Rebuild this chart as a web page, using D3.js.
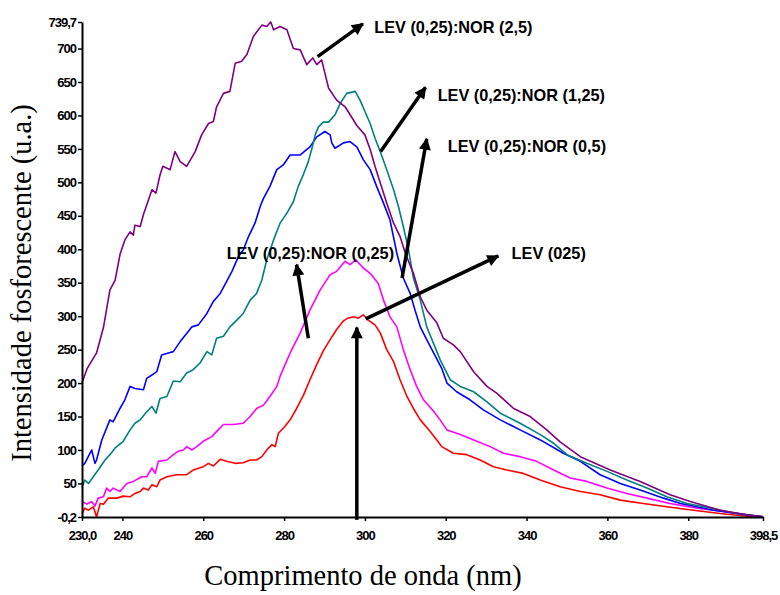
<!DOCTYPE html>
<html>
<head>
<meta charset="utf-8">
<script src="https://cdn.jsdelivr.net/npm/d3@7/dist/d3.min.js"></script>
<style>
  html, body { margin: 0; padding: 0; background: #fff; }
  svg { display: block; }
  .tick text { font-family: "Liberation Sans", Arial, sans-serif; font-weight: bold; font-size: 13px; letter-spacing: -1px; fill: #000; }
</style>
</head>
<body>
<svg id="chart" width="780" height="595"></svg>
<script>
// Phosphorescence spectra: wavelength (nm) and intensity (u.a.) pairs per sample
const levNor2_5 = [
  [230.0,200],[231.3,222],[233.6,245],[235.3,283],[236.9,339],[238.2,354],[239.4,392],[240.6,414],
  [241.9,426],[242.7,421],[243.1,436],[244.4,434],[245.2,452],[246.4,473],[247.3,489],[248.3,484],
  [249.3,511],[250.0,524],[251.8,519],[253.0,546],[254.3,531],[255.9,524],[258.0,546],[259.6,571],
  [261.3,588],[262.5,591],[263.3,613],[265.0,633],[266.6,636],[267.9,678],[269.5,681],[270.8,691],
  [272.4,718],[274.5,735],[275.7,733],[276.7,739.7],[277.4,728],[279.0,733],[280.7,728],[282.3,700],
  [284.0,698],[285.6,676],[287.1,686],[288.1,676],[289.3,683],[291.0,641],[293.0,623],[295.1,613],
  [298.0,585],[300.0,571],[301.3,549],[302.5,524],[303.8,499],[305.4,469],[307.1,439],[308.7,419],
  [310.0,394],[312.0,364],[313.7,329],[315.3,309],[317.8,290],[319.4,267],[321.9,257],[323.6,247],
  [326.9,217],[330.2,195],[332.6,185],[336.8,162],[340.9,150],[345.0,130],[348.3,112],[353.3,90],
  [360.7,70],[368.1,53],[375.5,33],[380.5,23],[387.9,10],[394.5,3],[398.5,0]
];
const levNor1_25 = [
  [230.0,44],[230.7,55],[231.6,50],[232.8,60],[234.0,70],[235.7,85],[236.9,93],[238.2,103],
  [240.2,113],[241.9,130],[243.1,140],[244.4,145],[246.0,157],[247.3,165],[248.3,155],[249.3,177],
  [251.0,180],[252.6,203],[254.3,202],[255.9,215],[257.5,220],[259.2,230],[260.9,247],[262.1,242],
  [263.3,267],[265.0,270],[266.6,284],[268.3,294],[269.9,304],[271.6,324],[273.2,334],[274.5,354],
  [275.7,384],[277.4,414],[279.0,439],[280.7,454],[282.3,471],[283.5,494],[284.8,512],[286.0,531],
  [286.9,551],[287.7,571],[288.5,583],[289.7,590],[291.0,590],[292.6,601],[293.9,618],[295.5,633],
  [297.6,636],[298.8,623],[300.0,606],[301.3,588],[302.5,566],[303.8,546],[305.4,519],[307.1,489],
  [308.3,464],[309.5,434],[310.8,399],[312.0,357],[313.7,324],[315.3,284],[317.0,259],[318.6,235],
  [321.1,205],[323.6,195],[326.9,187],[330.2,172],[333.5,155],[338.4,140],[343.4,123],[346.7,110],
  [350.0,93],[354.9,80],[359.9,68],[364.8,55],[369.8,43],[374.7,30],[379.7,20],[386.3,12],
  [392.9,4],[398.5,0]
];
const levNor0_5 = [
  [230.0,76],[230.7,80],[232.4,100],[233.2,80],[233.6,85],[234.9,115],[236.9,145],[237.7,142],
  [239.4,162],[240.6,175],[241.9,195],[243.1,192],[245.2,190],[246.0,207],[247.3,212],[248.5,217],
  [249.7,242],[251.4,245],[252.6,247],[254.3,262],[255.9,274],[257.2,284],[258.8,287],[260.9,304],
  [262.5,322],[264.2,334],[265.8,352],[267.1,367],[268.7,389],[269.9,399],[271.2,419],[272.8,439],
  [274.1,464],[274.9,476],[276.5,494],[278.2,519],[279.8,526],[281.5,541],[284.0,541],[286.4,553],
  [288.1,568],[290.1,576],[291.4,571],[291.8,559],[292.6,551],[294.7,559],[296.3,561],[298.0,553],
  [299.6,534],[301.3,519],[302.9,494],[304.6,469],[306.2,444],[307.9,394],[309.5,357],[311.2,334],
  [312.4,309],[313.7,284],[315.3,265],[317.0,245],[319.0,222],[320.3,200],[322.7,187],[326.0,175],
  [329.3,160],[333.5,145],[338.4,130],[343.4,115],[349.1,95],[353.3,83],[358.2,63],[363.2,50],
  [368.1,40],[373.9,28],[378.1,20],[386.3,10],[394.5,3],[398.5,0]
];
const levNor0_25 = [
  [230.0,23],[231.2,19],[232.4,23],[233.2,16],[234.0,28],[235.3,30],[236.1,43],[236.9,38],
  [237.7,43],[239.4,38],[241.1,50],[242.7,53],[244.8,60],[246.0,60],[247.3,73],[248.1,65],
  [248.9,83],[251.0,85],[252.6,93],[253.8,98],[255.1,100],[255.9,105],[257.2,100],[258.4,105],
  [260.0,113],[262.1,120],[263.7,130],[265.0,138],[267.5,138],[269.9,140],[271.6,150],[273.2,162],
  [274.9,167],[276.5,180],[278.2,195],[279.0,210],[281.5,245],[284.0,275],[286.4,309],[288.9,339],
  [291.4,362],[293.0,367],[295.1,382],[296.3,377],[297.8,384],[299.6,372],[301.3,364],[303.3,349],
  [304.6,324],[306.2,299],[307.9,284],[309.5,250],[311.2,220],[312.8,195],[314.5,175],[317.0,158],
  [318.6,145],[320.3,130],[323.6,123],[327.7,113],[331.0,105],[334.3,95],[338.4,90],[342.5,83],
  [346.7,70],[350.8,58],[354.9,53],[359.9,43],[364.8,35],[369.8,28],[375.5,20],[382.2,13],
  [388.7,8],[394.5,3],[398.5,0]
];
const lev025 = [
  [230.0,5],[230.7,13],[231.6,10],[232.8,15],[233.6,0],[234.5,20],[235.3,19],[236.5,28],
  [238.6,28],[240.2,31],[241.9,30],[243.1,35],[244.4,38],[245.2,43],[246.4,40],[247.3,48],
  [248.5,45],[249.3,55],[251.0,60],[253.4,63],[255.9,63],[257.5,70],[260.0,75],[261.3,80],
  [262.5,76],[264.2,86],[265.8,83],[267.9,80],[269.9,81],[271.6,85],[273.2,85],[274.5,90],
  [275.7,100],[277.0,108],[277.8,105],[278.6,125],[280.2,135],[281.5,145],[283.1,162],[284.8,182],
  [286.4,205],[288.1,228],[289.7,248],[291.4,265],[293.0,280],[294.7,293],[295.8,297],[297.2,299],
  [298.4,297],[299.6,302],[300.8,294],[302.5,287],[303.8,275],[305.4,250],[307.1,232],[308.7,205],
  [310.4,180],[312.0,162],[313.7,145],[316.1,128],[317.8,115],[319.0,105],[321.9,95],[325.2,93],
  [328.5,85],[331.8,75],[335.1,70],[339.2,65],[343.4,55],[348.3,45],[353.3,38],[358.2,33],
  [363.2,25],[368.9,20],[374.7,15],[381.3,10],[387.9,5],[394.5,1],[398.5,0]
];

const seriesColors = ["#ff0000", "#ff00ff", "#0000ff", "#008080", "#800080"];
const seriesData = [lev025, levNor0_25, levNor0_5, levNor1_25, levNor2_5];

const xTicks = [230.0, 240, 260, 280, 300, 320, 340, 360, 380, 398.5];
const yTicks = [-0.2, 50, 100, 150, 200, 250, 300, 350, 400, 450, 500, 550, 600, 650, 700, 739.7];

// Annotation labels [text, wavelength, intensity] and arrows [from, to] in data units
const labelTexts = ["LEV (0,25):NOR (2,5)", "LEV (0,25):NOR (1,25)", "LEV (0,25):NOR (0,5)", "LEV (0,25):NOR (0,25)", "LEV (025)"];
const labelPos = [[302.3, 723], [318.0, 622], [320.5, 546], [265.8, 386], [336.3, 386]];
const arrowFrom = [[288.3, 688], [303.9, 546], [309.2, 357], [286.0, 267], [300.2, 296], [298.0, -4.5]];
const arrowTo   = [[299.5, 737], [315.0, 642], [315.3, 565], [283.1, 377], [333.0, 390], [298.0, 283]];

const svg = d3.select("#chart");
const x = d3.scaleLinear().domain([230.0, 398.5]).range([82, 763]);
const y = d3.scaleLinear().domain([-0.2, 739.7]).range([517, 22]);

const fmt = v => {
  const s = Number.isInteger(v) && v !== 230 ? String(v) : v.toFixed(1);
  return s.replace(".", ",");
};

// Spectra
const line = d3.line().x(d => x(d[0])).y(d => y(d[1]));
svg.append("g").selectAll("path")
  .data(seriesData)
  .join("path")
  .attr("d", line)
  .attr("fill", "none")
  .attr("stroke", (d, i) => seriesColors[i])
  .attr("stroke-width", 1.6)
  .attr("stroke-linejoin", "round");

// Axes
const xAxis = svg.append("g")
  .attr("transform", `translate(0,${y.range()[0]})`)
  .call(d3.axisBottom(x).tickValues(xTicks).tickFormat(fmt).tickSize(4).tickSizeOuter(0).tickPadding(10));
const yAxis = svg.append("g")
  .attr("transform", `translate(${x.range()[0]},0)`)
  .call(d3.axisLeft(y).tickValues(yTicks).tickFormat(fmt).tickSize(4).tickSizeOuter(0).tickPadding(2));
[xAxis, yAxis].forEach(g => {
  g.select(".domain").attr("stroke", "#000").attr("stroke-width", 2);
  g.selectAll(".tick line").attr("stroke", "#000").attr("stroke-width", 1.5);
});

// Axis titles
svg.append("text")
  .attr("x", 363).attr("y", 585)
  .attr("text-anchor", "middle")
  .attr("font-family", "'Liberation Serif', 'Times New Roman', serif")
  .attr("font-size", 28.5)
  .text("Comprimento de onda (nm)");
svg.append("text")
  .attr("transform", "translate(31,283) rotate(-90)")
  .attr("text-anchor", "middle")
  .attr("font-family", "'Liberation Serif', 'Times New Roman', serif")
  .attr("font-size", 28.5)
  .text("Intensidade fosforescente (u.a.)");

// Arrowhead
svg.append("defs").append("marker")
  .attr("id", "head")
  .attr("viewBox", "0 0 10 10")
  .attr("refX", 9).attr("refY", 5)
  .attr("markerUnits", "userSpaceOnUse")
  .attr("markerWidth", 14).attr("markerHeight", 12)
  .attr("orient", "auto")
  .append("path").attr("d", "M0,0 L10,5 L0,10 Z").attr("fill", "#000");

svg.append("g").selectAll("line")
  .data(arrowFrom)
  .join("line")
  .attr("x1", d => x(d[0])).attr("y1", d => y(d[1]))
  .attr("x2", (d, i) => x(arrowTo[i][0])).attr("y2", (d, i) => y(arrowTo[i][1]))
  .attr("stroke", "#000").attr("stroke-width", 3.5)
  .attr("marker-end", "url(#head)");

svg.append("g").selectAll("text")
  .data(labelTexts)
  .join("text")
  .attr("x", (d, i) => x(labelPos[i][0]))
  .attr("y", (d, i) => y(labelPos[i][1]))
  .attr("font-family", "'Liberation Sans', Arial, sans-serif")
  .attr("font-weight", "bold")
  .attr("font-size", 16.3)
  .text(d => d);
</script>
</body>
</html>
